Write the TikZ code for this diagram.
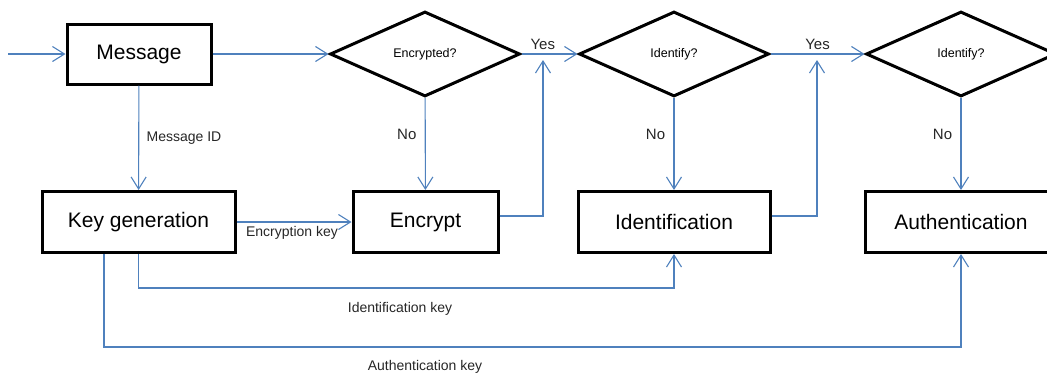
\documentclass[tikz,border=0pt]{standalone}
\usepackage{fontspec}
\setmainfont{Liberation Sans}
\usetikzlibrary{shapes.geometric,arrows.meta}
\definecolor{linkblue}{RGB}{79,129,189}
\tikzset{
  box/.style={draw, line width=3pt, minimum height=61pt, inner sep=0pt, font=\fontsize{21}{25}\selectfont},
  test/.style={draw, diamond, line width=3pt, minimum width=190pt, minimum height=85pt, inner sep=0pt, font=\fontsize{12.5}{15}\selectfont},
  flow/.style={draw=linkblue, line width=1.1pt, -{Straight Barb[length=12pt,width=15pt]}},
  lbl/.style={font=\fontsize{14}{17}\selectfont, text=black!85},
  yn/.style={font=\fontsize{15}{18}\selectfont, text=black!85}
}
\begin{document}
\begin{tikzpicture}[x=1pt, y=-1pt]
\useasboundingbox (0,0) rectangle (1047,375);
% boxes
\node[box, minimum width=144pt, minimum height=60pt] (msg) at (139,54) {Message};
\node[box, minimum width=193pt] (keygen) at (138.5,222) {Key generation};
\node[box, minimum width=145pt] (enc) at (425.5,222) {Encrypt};
\node[box, minimum width=192pt] (ident) at (674,222) {Identification};
\node[box, minimum width=192pt] (auth) at (961,222) {Authentication};
% decisions
\node[test] (d1) at (425,54) {Encrypted?};
\node[test] (d2) at (674,54) {Identify?};
\node[test] (d3) at (961,54) {Identify?};
% free ends and bends
\coordinate (in) at (8,54);
\coordinate (j1) at (543,60);
\coordinate (j2) at (817,60);
\coordinate (ik) at (400,288);
\coordinate (ak) at (425,347);
% connectors
\draw[flow] (in) -- (msg);
\draw[flow] (msg) -- (d1);
\draw[flow] (d1) -- node[yn, above, pos=0.38, inner sep=4pt] {Yes} (d2);
\draw[flow] (d2) -- node[yn, above, inner sep=4pt] {Yes} (d3);
\draw[flow] (d1) -- node[yn, left, pos=0.4, xshift=-5pt] {No} (enc);
\draw[flow] (d2) -- node[yn, left, pos=0.4, xshift=-5pt] {No} (ident);
\draw[flow] (d3) -- node[yn, left, pos=0.4, xshift=-5pt] {No} (auth);
\draw[flow] (msg) -- node[lbl, right, xshift=4pt] {Message ID} (keygen);
\draw[flow] (keygen) -- node[lbl, below, inner sep=4pt, xshift=-2pt] {Encryption key} (enc);
\draw[flow] ([yshift=6pt]enc.east) -| (j1);
\draw[flow] ([yshift=6pt]ident.east) -| (j2);
\draw[flow] (keygen.south) |- (ik) -| (ident.south);
\node[lbl, below, yshift=-11pt] (iklbl) at (ik) {Identification key};
\draw[flow] ([xshift=-34.5pt]keygen.south) |- (ak) -| (auth.south);
\node[lbl, below, yshift=-10pt] (aklbl) at (ak) {Authentication key};
\end{tikzpicture}
\end{document}
